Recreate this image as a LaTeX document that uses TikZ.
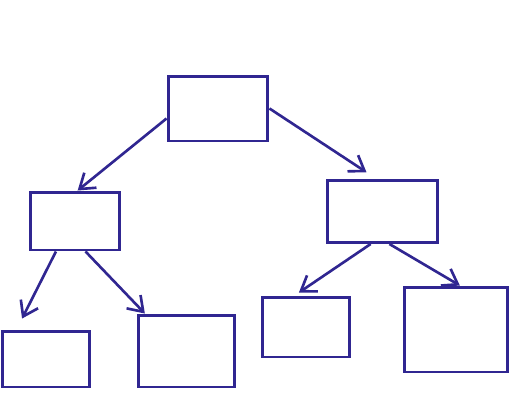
\documentclass[tikz,border=0pt]{standalone}
\usetikzlibrary{arrows.meta}
\definecolor{ink}{RGB}{48,38,145}
\tikzset{
  box/.style={draw=ink,line width=1.7pt,rectangle,inner sep=0pt},
  link/.style={draw=ink,line width=1.5pt,-{Straight Barb[length=8pt,width=11pt]}}
}
\begin{document}
\begin{tikzpicture}[x=0.02cm,y=-0.02cm]
   \useasboundingbox (0,0) rectangle (512,413);
   \node[box,minimum width=2cm,minimum height=1.3cm]     (root) at (218,108.5) {};
   \node[box,minimum width=1.8cm,minimum height=1.16cm]  (L)    at (75,221)    {};
   \node[box,minimum width=2.22cm,minimum height=1.24cm] (R)    at (382.5,211.5) {};
   \node[box,minimum width=1.76cm,minimum height=1.12cm] (LL)   at (46,359)    {};
   \node[box,minimum width=1.94cm,minimum height=1.44cm] (LR)   at (186.5,351) {};
   \node[box,minimum width=1.76cm,minimum height=1.2cm]  (RL)   at (306,327)   {};
   \node[box,minimum width=2.08cm,minimum height=1.7cm]  (RR)   at (456,329.5) {};
   \draw[link] (root.191) -- (L.85);
   \draw[link,shorten >=7pt] (root.east) -- (R.100);
   \draw[link,shorten >=7pt] (L.238) -- (LL.135);
   \draw[link] (L.289) -- (LR.138);
   \draw[link,shorten >=3pt] (R.250) -- (RL.110);
   \draw[link] (R.282) -- (RR.85);
\end{tikzpicture}
\end{document}
